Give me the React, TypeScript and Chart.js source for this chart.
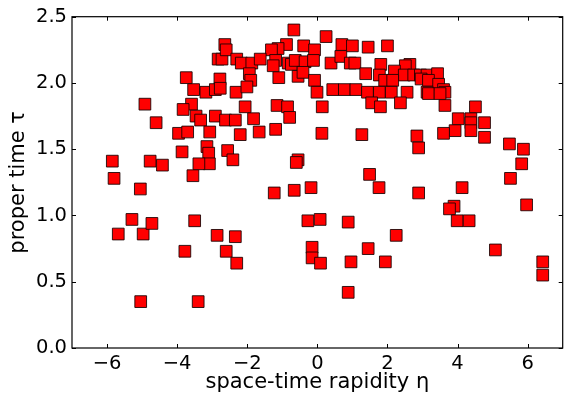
import React, { useEffect, useRef } from 'react';
import { Chart, registerables } from 'chart.js';

Chart.register(...registerables);

const etaValues: number[] = [
  -4.92, -4.60, -5.85, -5.80, -4.77, -4.42, -3.96, -3.70, -3.86, -3.74,
  -3.53, -3.18, -3.59, -3.83, -3.46, -3.33, -2.91, -2.62, -3.07, -3.15,
  -3.10, -3.08, -3.38, -3.55, -2.78, -2.91, -2.77, -2.83, -2.72, -2.64,
  -2.60, -2.56,
  -0.67, 0.25, -0.88, -1.12, -1.31, -0.39, -0.08, 0.70, 1.00, 1.45,
  2.00, -2.30, -2.17, -1.87, -1.63, -1.19, -1.26, -0.83, -0.74, -0.63,
  -0.35, -0.11, 0.39, 0.67, 0.94, 1.07, 1.81, -1.94, -1.90, -1.10,
  -0.55, -0.41, -0.08, -0.01, -2.32, -2.01, 0.44, 0.77, 1.10, 1.38,
  1.77, 1.92, 1.43, 1.77, 1.55, 1.80, -2.06, -1.15, -0.85, 0.14,
  -0.79, -1.82, -2.34, -2.20, -1.66, -1.19, 0.13, 1.27, -2.41, -0.55,
  -0.60, 1.49,
  2.64, 2.51, 2.20, 2.48, 2.75, 2.94, 3.13, 3.43, 2.15, 2.96,
  3.17, 3.46, 3.60, 3.64, 2.11, 2.56, 3.13, 3.17, 3.50, 2.37,
  3.64, 4.51, 4.02, 4.38, 4.38, 4.77, 3.93, 4.38, 3.60, 4.77,
  2.84, 2.89, 5.48, 5.88, 5.83, 5.51,
  -5.05, -5.29, -5.68, -4.97, -4.72, -3.50, -3.78, -2.86, -2.60, -5.04,
  -3.40,
  1.76, -1.23, -0.66, -0.18, -0.27, 0.08, 0.88, -2.34, -2.30, -0.15,
  -0.15, 0.09, 0.96, 1.45, 0.88,
  2.89, 4.13, 5.97, 3.90, 3.77, 3.99, 4.33, 2.25, 1.94, 5.08,
  6.43, 6.43,
];

const tauValues: number[] = [
  1.84, 1.70, 1.41, 1.28, 1.41, 1.38, 1.62, 1.63, 1.48, 2.04,
  1.95, 1.93, 1.84, 1.80, 1.75, 1.72, 1.75, 1.72, 1.63, 1.52,
  1.47, 1.39, 1.39, 1.30, 2.03, 1.95, 1.96, 2.18, 2.18, 2.29,
  2.25, 1.49,
  2.40, 2.35, 2.29, 2.26, 2.25, 2.28, 2.25, 2.29, 2.28, 2.27,
  2.28, 2.18, 2.15, 2.15, 2.18, 2.17, 2.13, 2.15, 2.14, 2.17,
  2.16, 2.17, 2.15, 2.20, 2.15, 2.15, 2.14, 2.07, 2.02, 2.04,
  2.05, 2.08, 2.02, 1.93, 1.93, 1.97, 1.95, 1.95, 1.95, 2.07,
  2.06, 2.02, 1.93, 1.93, 1.85, 1.82, 1.82, 1.83, 1.82, 1.82,
  1.74, 1.73, 1.72, 1.61, 1.63, 1.65, 1.62, 1.61, 1.42, 1.42,
  1.40, 1.31,
  2.14, 2.13, 2.09, 2.06, 2.06, 2.06, 2.06, 2.07, 2.02, 2.03,
  2.02, 1.99, 1.95, 1.93, 1.93, 1.93, 1.93, 1.92, 1.92, 1.85,
  1.83, 1.82, 1.73, 1.73, 1.70, 1.70, 1.64, 1.64, 1.62, 1.59,
  1.60, 1.51, 1.54, 1.50, 1.39, 1.28,
  1.20, 0.97, 0.86, 0.86, 0.94, 0.96, 0.73, 0.85, 0.73, 0.35,
  0.35,
  1.21, 1.17, 1.19, 1.21, 0.96, 0.97, 0.95, 0.84, 0.64, 0.76,
  0.68, 0.64, 0.65, 0.75, 0.42,
  1.17, 1.21, 1.08, 1.07, 1.05, 0.96, 0.96, 0.85, 0.65, 0.74,
  0.65, 0.55,
];

const xTickValues: number[] = [-6, -4, -2, 0, 2, 4, 6];
const yTickValues: number[] = [0, 0.5, 1, 1.5, 2, 2.5];
const xTitle = 'space-time rapidity η';
const yTitle = 'proper time τ';

const frameTicks = {
  id: 'frameTicks',
  afterDraw(chart: any) {
    const { ctx, chartArea: a } = chart;
    const xs = chart.scales.x;
    const ys = chart.scales.y;
    ctx.save();
    ctx.strokeStyle = '#000';
    ctx.lineWidth = 1;
    ctx.beginPath();
    for (const v of xTickValues) {
      const px = Math.round(xs.getPixelForValue(v)) + 0.5;
      ctx.moveTo(px, a.bottom);
      ctx.lineTo(px, a.bottom - 4);
      ctx.moveTo(px, a.top);
      ctx.lineTo(px, a.top + 4);
    }
    for (const v of yTickValues) {
      const py = Math.round(ys.getPixelForValue(v)) + 0.5;
      ctx.moveTo(a.left, py);
      ctx.lineTo(a.left + 4, py);
      ctx.moveTo(a.right, py);
      ctx.lineTo(a.right - 4, py);
    }
    ctx.stroke();
    ctx.lineWidth = 1.2;
    ctx.strokeRect(a.left, a.top, a.right - a.left, a.bottom - a.top);
    ctx.restore();
  },
};

export default function App() {
  const ref = useRef<HTMLCanvasElement>(null);
  useEffect(() => {
    const canvas = ref.current;
    if (!canvas) return;
    const font = 'DejaVu Sans';
    const chart = new Chart(canvas, {
      type: 'scatter',
      data: {
        datasets: [
          {
            data: etaValues.map((x, i) => ({ x, y: tauValues[i] })),
            pointStyle: 'rect',
            pointRadius: 8.3,
            pointHoverRadius: 8.3,
            backgroundColor: '#ff0000',
            borderColor: 'rgba(20,0,0,0.85)',
            borderWidth: 1,
          },
        ],
      },
      options: {
        responsive: false,
        animation: false,
        events: [],
        layout: { padding: { top: 16, right: 5, left: 0, bottom: 0 } },
        plugins: { legend: { display: false }, tooltip: { enabled: false } },
        scales: {
          x: {
            type: 'linear',
            min: -7,
            max: 7,
            afterBuildTicks: (s: any) => {
              s.ticks = xTickValues.map((v) => ({ value: v }));
            },
            afterFit: (s: any) => {
              s.height = 47;
            },
            grid: { display: false, drawTicks: false },
            border: { display: false },
            ticks: {
              color: '#000',
              padding: 4,
              maxRotation: 0,
              font: { family: font, size: 19.5 },
              callback: (v: any) => String(v).replace('-', '\u2212'),
            },
            title: {
              display: true,
              text: xTitle,
              color: '#000',
              font: { family: font, size: 21 },
              padding: { top: 0, bottom: 0 },
            },
          },
          y: {
            type: 'linear',
            min: 0,
            max: 2.5,
            afterBuildTicks: (s: any) => {
              s.ticks = yTickValues.map((v) => ({ value: v }));
            },
            afterFit: (s: any) => {
              s.width = 72;
            },
            grid: { display: false, drawTicks: false },
            border: { display: false },
            ticks: {
              color: '#000',
              padding: 5,
              font: { family: font, size: 19.5 },
              callback: (v: any) => Number(v).toFixed(1),
            },
            title: {
              display: true,
              text: yTitle,
              color: '#000',
              font: { family: font, size: 21 },
              padding: { top: 6, bottom: 0 },
            },
          },
        },
      },
      plugins: [frameTicks],
    });
    return () => chart.destroy();
  }, []);
  return (
    <div
      style={{
        position: 'absolute',
        left: 0,
        top: 0,
        width: 564,
        height: 395,
        overflow: 'hidden',
        background: '#fff',
      }}
    >
      <canvas ref={ref} width={572} height={395} style={{ display: 'block', width: 572, height: 395 }} />
    </div>
  );
}
